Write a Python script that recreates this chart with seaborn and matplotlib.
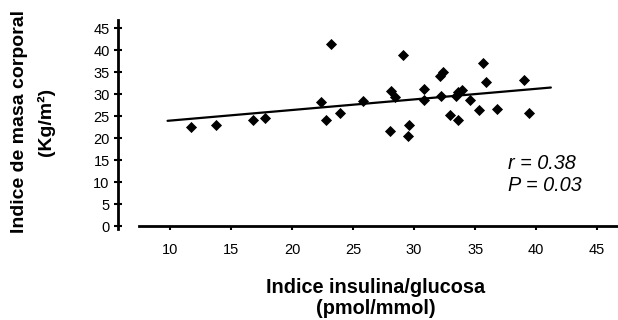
import numpy as np
import pandas as pd
import matplotlib
matplotlib.use('Agg')
import matplotlib.pyplot as plt
import seaborn as sns

# valores
insulina_glucosa = [11.7, 13.8, 16.8, 17.8, 22.4, 23.2, 22.8, 23.9, 25.8,
                    29.1, 28.1, 28.4, 28.0, 29.6, 29.5, 30.8, 30.8, 32.1,
                    32.4, 32.2, 32.9, 33.4, 33.6, 33.9, 33.6, 34.6, 35.6,
                    35.9, 35.3, 36.8, 39.0, 39.4]
imc = [22.5, 23.0, 24.0, 24.6, 28.2, 41.4, 24.0, 25.7, 28.4,
       38.9, 30.8, 29.4, 21.6, 23.0, 20.5, 31.1, 28.6, 34.1,
       35.0, 29.6, 25.2, 29.5, 30.4, 30.9, 24.2, 28.6, 37.0,
       32.7, 26.3, 26.5, 33.3, 25.7]
linea_x = [9.8, 41.2]
x_ticks = [10, 15, 20, 25, 30, 35, 40, 45]
y_ticks = [0, 5, 10, 15, 20, 25, 30, 35, 40, 45]

df = pd.DataFrame({'ig': insulina_glucosa, 'imc': imc})

sns.set_style('ticks')
plt.rcParams['font.family'] = ['Liberation Sans', 'DejaVu Sans']
plt.rcParams['text.color'] = 'black'
plt.rcParams['axes.labelcolor'] = 'black'

fig = plt.figure(figsize=(6.18, 3.2), dpi=100)
ax = fig.add_axes([118 / 618, 0.284, 1 - 118 / 618, 0.653])

sns.scatterplot(data=df, x='ig', y='imc', marker='D', color='black',
                s=32, edgecolor='black', linewidth=0, ax=ax)

pend, orden = np.polyfit(df['ig'], df['imc'], 1)
lx = np.array(linea_x)
ax.plot(lx, pend * lx + orden, color='black', lw=1.6)

ax.set_xlim(5.74, 46.7)
ax.set_ylim(-0.7, 46.8)
ax.set_xticks(x_ticks)
ax.set_yticks(y_ticks)
ax.tick_params(axis='both', labelsize=10.5, colors='black', width=1.5,
               bottom=True, left=True)
ax.tick_params(axis='y', direction='inout', length=6, pad=3)
ax.tick_params(axis='x', direction='out', length=3, pad=9)

for s in ['top', 'right']:
    ax.spines[s].set_visible(False)
ax.spines['left'].set_linewidth(2)
ax.spines['bottom'].set_linewidth(2)
ax.spines['bottom'].set_position(('data', 0))
ax.spines['bottom'].set_bounds(7.5, 46.7)
ax.spines['left'].set_color('black')
ax.spines['bottom'].set_color('black')

ax.set_xlabel('Indice insulina/glucosa\n(pmol/mmol)', fontsize=14.3,
              fontweight='bold', linespacing=1.15)
ax.xaxis.set_label_coords(0.515, -0.235)
ax.xaxis.label.set_va('top')
ax.set_ylabel('Indice de masa corporal\n(Kg/m²)', fontsize=14,
              fontweight='bold', linespacing=1.65)
ax.yaxis.set_label_coords(-0.125, 0.515)

ax.text(37.7, 11.8, 'r = 0.38\nP = 0.03', fontsize=14.3, fontstyle='italic',
        ha='left', va='center', linespacing=1.2)

fig.savefig('out.png', dpi=100)
